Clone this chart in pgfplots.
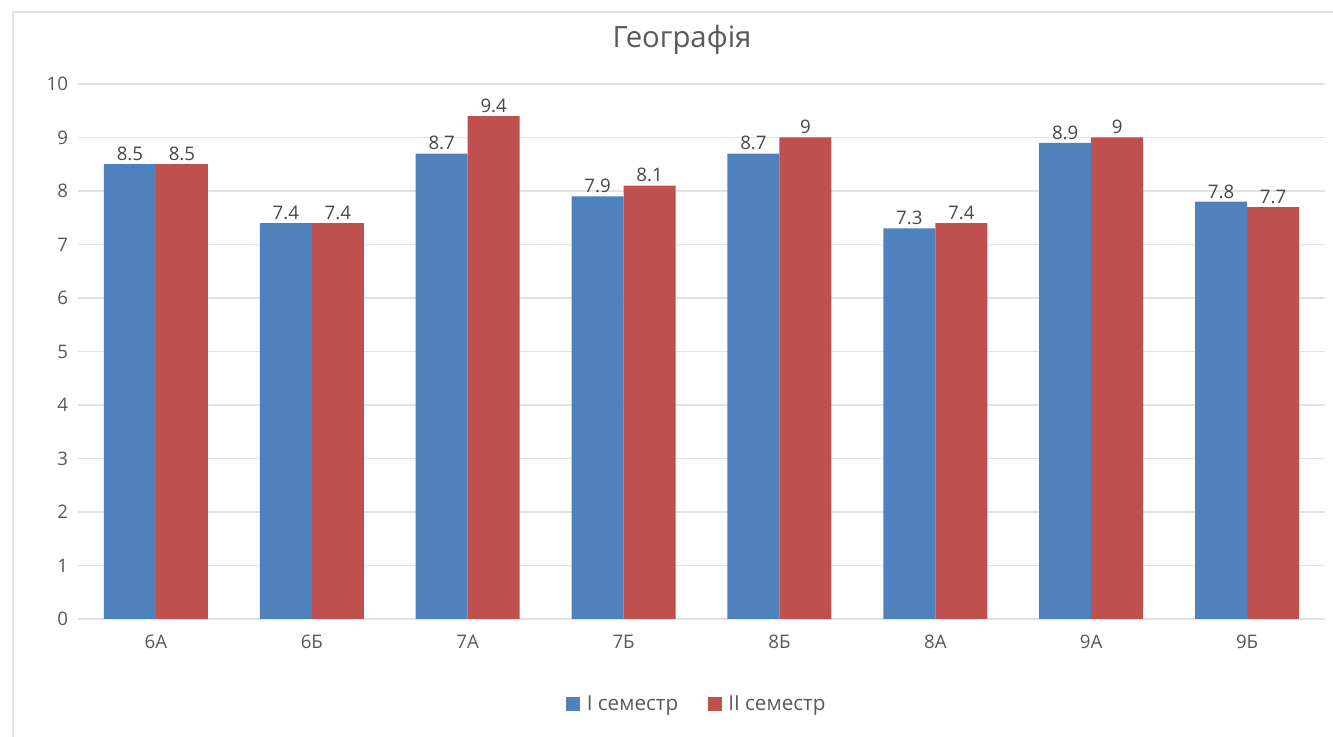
\documentclass[border=0pt]{standalone}
\usepackage{pgfplots}
\pgfplotsset{compat=1.18}
\usepackage{fontspec}
\setmainfont{Open Sans}
\definecolor{serA}{HTML}{4F81BD}
\definecolor{serB}{HTML}{C0504D}
\definecolor{txt}{HTML}{595959}
\definecolor{gridc}{HTML}{E3E3E3}
\begin{document}
\begin{tikzpicture}
\path[use as bounding box] (0,0) rectangle (999.75pt,552.75pt);
\draw[gridc, line width=0.8pt] (9.75pt,0) -- (9.75pt,543.75pt) -- (999.75pt,543.75pt);
\node[text=txt, font=\fontsize{22}{26}\selectfont] at (511.5pt,522.75pt) {Географія};
\begin{axis}[
  at={(58.5pt,88.5pt)}, anchor=south west,
  scale only axis, width=935.25pt, height=401.25pt,
  ybar=0pt, bar width=39pt,
  xmin=-0.5, xmax=7.5, ymin=0, ymax=10,
  xtick={0,...,7},
  xticklabels={6А,6Б,7А,7Б,8Б,8А,9А,9Б},
  ytick={0,...,10},
  ymajorgrids, grid style={gridc, line width=0.8pt},
  axis line style={draw=none},
  tick style={draw=none},
  /pgf/number format/assume math mode=true,
  ticklabel style={text=txt, font=\fontsize{14}{16}\selectfont},
  yticklabel style={xshift=-4pt},
  xticklabel style={yshift=-4pt},
  nodes near coords,
  every node near coord/.append style={text=txt!80!black, font=\fontsize{14}{16}\selectfont, yshift=-1pt},
  legend style={at={(axis description cs:0.4965,-0.159)}, anchor=center, draw=none, fill=none,
    legend columns=2, font=\fontsize{15.5}{17}\selectfont, text=txt,
    /tikz/every even column/.append style={column sep=20pt}},
  legend cell align=left,
  legend image code/.code={\fill[#1] (0pt,-5pt) rectangle (10.5pt,5.5pt);},
]
\addplot[fill=serA, draw=none] coordinates {(0,8.5) (1,7.4) (2,8.7) (3,7.9) (4,8.7) (5,7.3) (6,8.9) (7,7.8)};
\addplot[fill=serB, draw=none] coordinates {(0,8.5) (1,7.4) (2,9.4) (3,8.1) (4,9) (5,7.4) (6,9) (7,7.7)};
\legend{\hspace{3pt}I семестр, \hspace{3pt}II семестр}
\end{axis}
\end{tikzpicture}
\end{document}
